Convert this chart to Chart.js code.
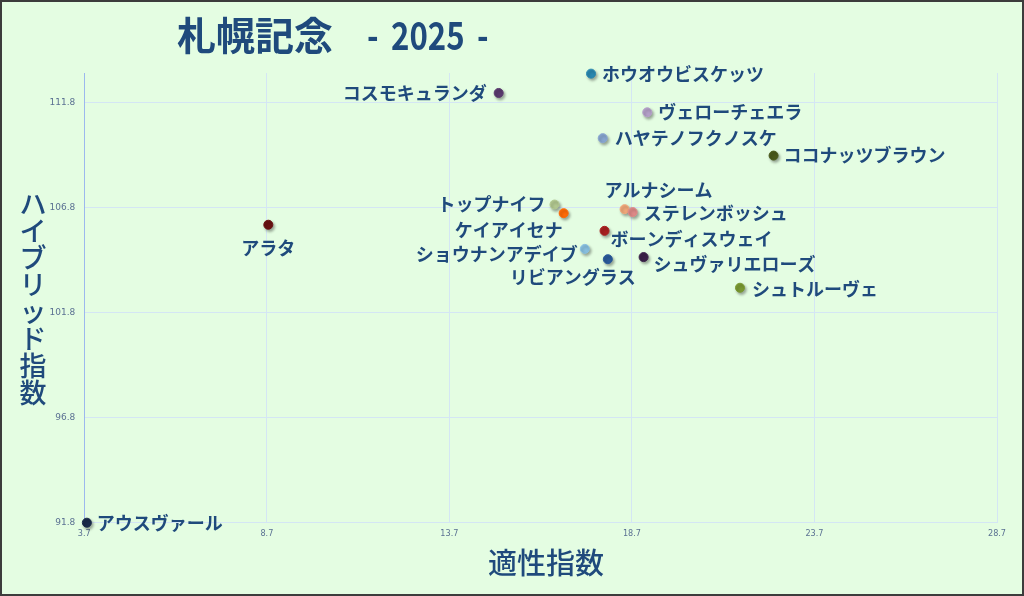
<!DOCTYPE html>
<html>
<head>
<meta charset="utf-8">
<script src="https://cdn.jsdelivr.net/npm/chart.js@4"></script>
<style>
  body { margin: 0; background: #e4fde2; }
  #wrap { width: 1024px; height: 596px; position: relative; }
</style>
</head>
<body>
<div id="wrap"><canvas id="myChart" width="1024" height="596"></canvas></div>
<script>
let horses = ["ホウオウビスケッツ", "コスモキュランダ", "ヴェローチェエラ", "ハヤテノフクノスケ",
    "ココナッツブラウン", "アルナシーム", "ステレンボッシュ", "トップナイフ", "ケイアイセナ",
    "ボーンディスウェイ", "ショウナンアデイブ", "リビアングラス", "シュヴァリエローズ",
    "シュトルーヴェ", "アラタ", "アウスヴァール"];
let aptitude = [17.58, 15.05, 19.12, 17.9, 22.58, 18.5, 18.72, 16.58, 16.83,
    17.95, 17.41, 18.04, 19.02, 21.66, 8.74, 3.77];
let hybrid = [113.17, 112.25, 111.33, 110.1, 109.27, 106.72, 106.58, 106.94, 106.53,
    105.69, 104.83, 104.34, 104.44, 102.98, 105.98, 91.8];
let xTicks = [3.7, 8.7, 13.7, 18.7, 23.7, 28.7];
let yTicks = [91.8, 96.8, 101.8, 106.8, 111.8];

let pointColors = ["#2a88b0", "#5a3a6e", "#b4a0c8", "#88a6d0", "#4a5a1c", "#f0a87a",
    "#de8a88", "#b2c890", "#ff6a08", "#a82020", "#88c0e0", "#2a5a9a", "#3a2048",
    "#7a9a32", "#6a1212", "#1a2a4a"];

// where each name sits relative to its dot: [dx, dy, align]
let labelPlace = {
    "ホウオウビスケッツ": [11, 1, "left"],
    "コスモキュランダ": [-12, 0, "right"],
    "ヴェローチェエラ": [11, 0, "left"],
    "ハヤテノフクノスケ": [12, 0, "left"],
    "ココナッツブラウン": [10, 0, "left"],
    "アルナシーム": [-20, -19, "left"],
    "ステレンボッシュ": [11, 1, "left"],
    "トップナイフ": [-9, 0, "right"],
    "ケイアイセナ": [-1, 17, "right"],
    "ボーンディスウェイ": [6, 8, "left"],
    "ショウナンアデイブ": [-7, 5, "right"],
    "リビアングラス": [-35, 18, "center"],
    "シュヴァリエローズ": [10, 7, "left"],
    "シュトルーヴェ": [12, 1, "left"],
    "アラタ": [0, 23, "center"],
    "アウスヴァール": [10, 0, "left"]
};

let textBlue = "#1f4a7c";
let jpFont = "'Noto Sans CJK JP', 'Noto Sans', sans-serif";

let points = [];
for (let i = 0; i < horses.length; ++i) {
    points.push({x: aptitude[i], y: hybrid[i]});
}

const decor = {
    id: "decor",
    beforeDatasetsDraw(chart) {
        const ctx = chart.ctx;
        ctx.save();
        ctx.shadowColor = "rgba(0,0,0,0.35)";
        ctx.shadowBlur = 3;
        ctx.shadowOffsetX = 1.5;
        ctx.shadowOffsetY = 2;
    },
    afterDatasetsDraw(chart) {
        const ctx = chart.ctx;
        ctx.restore();
        const meta = chart.getDatasetMeta(0);
        ctx.save();
        ctx.fillStyle = textBlue;
        ctx.font = "bold 18px " + jpFont;
        ctx.textBaseline = "middle";
        meta.data.forEach((pt, i) => {
            const p = labelPlace[horses[i]] || [10, 0, "left"];
            ctx.textAlign = p[2];
            ctx.fillText(horses[i], pt.x + p[0], pt.y + p[1]);
        });
        ctx.restore();
    },
    afterDraw(chart) {
        const ctx = chart.ctx;
        ctx.save();
        ctx.fillStyle = textBlue;
        ctx.textBaseline = "alphabetic";
        ctx.textAlign = "left";
        // title
        ctx.font = "bold 39px " + jpFont;
        ctx.fillText("札幌記念", 177, 50);
        const parts = [["-", 367], ["2025", 391], ["-", 477]];
        parts.forEach(([s, x]) => {
            ctx.save();
            ctx.translate(x, 50);
            ctx.scale(0.8, 1);
            ctx.font = "bold 39px " + jpFont;
            ctx.fillText(s, 0, 0);
            ctx.restore();
        });
        // x axis title
        ctx.font = "500 29px " + jpFont;
        ctx.textAlign = "center";
        ctx.textBaseline = "middle";
        ctx.fillText("適性指数", 546, 563);
        // y axis title, stacked
        const yTitle = "ハイブリッド指数";
        ctx.font = "500 27px " + jpFont;
        for (let k = 0; k < yTitle.length; ++k) {
            ctx.fillText(yTitle[k], 33, 204 + k * 27);
        }
        // frame
        ctx.strokeStyle = "#3c3c3c";
        ctx.lineWidth = 2;
        ctx.strokeRect(1, 1, 1022, 594);
        ctx.restore();
    }
};

new Chart("myChart", {
    type: "scatter",
    data: {
        datasets: [{
            data: points,
            backgroundColor: pointColors,
            borderColor: pointColors,
            pointRadius: 4.5,
            pointHoverRadius: 4.5,
            clip: false
        }]
    },
    options: {
        responsive: false,
        animation: false,
        events: [],
        layout: {padding: {left: 0, right: 27, top: 73, bottom: 0}},
        plugins: {
            legend: {display: false},
            tooltip: {enabled: false}
        },
        scales: {
            x: {
                type: "linear",
                min: 3.7,
                max: 28.7,
                afterBuildTicks: (axis) => { axis.ticks = xTicks.map(v => ({value: v})); },
                afterFit: (axis) => { axis.height = 73.3; },
                grid: {color: "#d4e6f4", drawTicks: false},
                border: {color: "#d4e6f4"},
                ticks: {
                    padding: 6,
                    color: "#5a7092",
                    font: {size: 9, family: "'Liberation Sans Narrow', 'DejaVu Sans Condensed', sans-serif"},
                    callback: (v) => v.toFixed(1)
                }
            },
            y: {
                type: "linear",
                min: 91.8,
                max: 113.2,
                afterBuildTicks: (axis) => { axis.ticks = yTicks.map(v => ({value: v})); },
                afterFit: (axis) => { axis.width = 84.3; },
                grid: {color: "#d4e6f4", drawTicks: false},
                border: {color: "#9cb8ee"},
                ticks: {
                    padding: 9,
                    color: "#5a7092",
                    font: {size: 9, family: "'DejaVu Sans', sans-serif"},
                    callback: (v) => v.toFixed(1)
                }
            }
        }
    },
    plugins: [decor]
});
</script>
</body>
</html>
